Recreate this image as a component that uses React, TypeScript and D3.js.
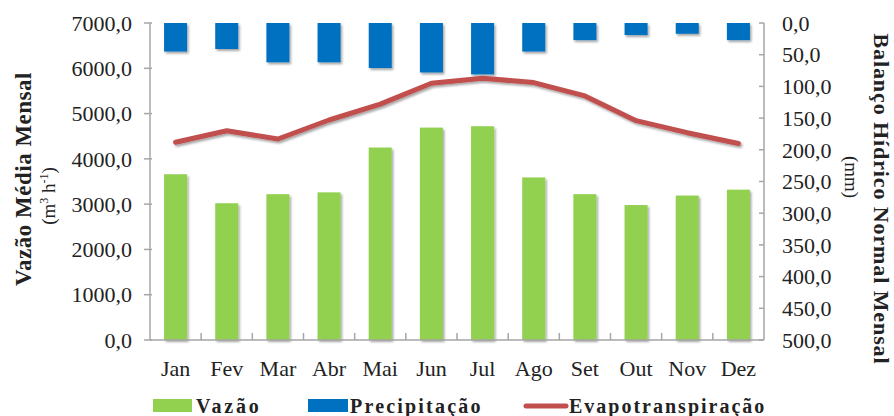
import * as d3 from "d3";

const months = ["Jan", "Fev", "Mar", "Abr", "Mai", "Jun", "Jul", "Ago", "Set", "Out", "Nov", "Dez"];
const vazao = [3660, 3020, 3220, 3260, 4250, 4690, 4720, 3590, 3220, 2980, 3190, 3320];
const precipitacao = [45, 41, 62, 62, 71, 78, 81, 45, 27, 19, 17, 27];
const evapo = [188, 170, 183, 153, 128, 95, 87, 94, 115, 154, 173, 190];
const leftTicks = [0, 1000, 2000, 3000, 4000, 5000, 6000, 7000];
const rightTicks = [0, 50, 100, 150, 200, 250, 300, 350, 400, 450, 500];

const W = 894;
const H = 416;
const left = 150;
const right = 764;
const top = 23;
const bottom = 340;

const fmt = d3
  .formatLocale({ decimal: ",", thousands: ".", grouping: [3], currency: ["", ""] })
  .format(".1f");

const FONT = "'Liberation Serif', 'Times New Roman', serif";
const AXIS = "#A6A6A6";
const GREEN = "#92D050";
const BLUE = "#0070C0";
const RED = "#C0504D";

export default function App() {
  const x = d3.scaleBand<string>().domain(months).range([left, right]).paddingInner(0.55).paddingOuter(0.275);
  const band = d3.scaleBand<string>().domain(months).range([left, right]);
  const yL = d3.scaleLinear().domain([0, 7000]).range([bottom, top]);
  const yR = d3.scaleLinear().domain([0, 500]).range([top, bottom]);

  const line = d3
    .line<number>()
    .x((_, i) => x(months[i])! + x.bandwidth() / 2)
    .y((d) => yR(d));

  return (
    <svg width={W} height={H} style={{ position: "absolute", left: 0, top: 0, background: "#fff" }} fontFamily={FONT}>
      <defs>
        <filter id="sh" x="-20%" y="-20%" width="150%" height="150%">
          <feDropShadow dx="1.5" dy="2" stdDeviation="1.2" floodColor="#000" floodOpacity="0.35" />
        </filter>
      </defs>

      {/* Vazão bars */}
      {vazao.map((v, i) => (
        <rect
          key={"v" + i}
          x={x(months[i])}
          y={yL(v)}
          width={x.bandwidth()}
          height={yL(0) - yL(v)}
          fill={GREEN}
          filter="url(#sh)"
        />
      ))}

      {/* Precipitação bars, hanging from top */}
      {precipitacao.map((v, i) => (
        <rect
          key={"p" + i}
          x={x(months[i])}
          y={yR(0)}
          width={x.bandwidth()}
          height={yR(v) - yR(0)}
          fill={BLUE}
          filter="url(#sh)"
        />
      ))}

      {/* Evapotranspiração line */}
      <path
        d={line(evapo)!}
        fill="none"
        stroke={RED}
        strokeWidth={5}
        strokeLinejoin="round"
        strokeLinecap="round"
        filter="url(#sh)"
      />

      {/* left axis */}
      <line x1={left} x2={left} y1={top} y2={bottom} stroke={AXIS} strokeWidth={1.5} />
      {leftTicks.map((t) => (
        <g key={"lt" + t}>
          <line x1={left - 6} x2={left + 2} y1={yL(t)} y2={yL(t)} stroke={AXIS} strokeWidth={1.5} />
          <text x={left - 18} y={yL(t)} dy="0.35em" textAnchor="end" fontSize={22} fill="#222">
            {fmt(t)}
          </text>
        </g>
      ))}

      {/* right axis */}
      <line x1={right} x2={right} y1={top} y2={bottom} stroke={AXIS} strokeWidth={1.5} />
      {rightTicks.map((t) => (
        <g key={"rt" + t}>
          <line x1={right - 5} x2={right} y1={yR(t)} y2={yR(t)} stroke={AXIS} strokeWidth={1.5} />
          <text x={right + 18} y={yR(t)} dy="0.35em" textAnchor="start" fontSize={22} fill="#222">
            {fmt(t)}
          </text>
        </g>
      ))}

      {/* x axis */}
      <line x1={left} x2={right} y1={bottom} y2={bottom} stroke={AXIS} strokeWidth={1.5} />
      {months.slice(1).map((m) => (
        <line key={"xt" + m} x1={band(m)} x2={band(m)} y1={bottom} y2={bottom - 7} stroke={AXIS} strokeWidth={1.5} />
      ))}
      {months.map((m) => (
        <text key={"xl" + m} x={x(m)! + x.bandwidth() / 2} y={376} textAnchor="middle" fontSize={22} fill="#222">
          {m}
        </text>
      ))}

      {/* axis titles */}
      <text
        transform="translate(31,179) rotate(-90)"
        textAnchor="middle"
        fontSize={23}
        fontWeight="bold"
        letterSpacing={0.5}
        fill="#222"
      >
        Vazão Média Mensal
      </text>
      <text transform="translate(55,196) rotate(-90)" textAnchor="middle" fontSize={19} fill="#222">
        (m<tspan dy="-7" fontSize={12}>3</tspan>
        <tspan dy="7"> h</tspan>
        <tspan dy="-7" fontSize={12}>-1</tspan>
        <tspan dy="7">)</tspan>
      </text>
      <text
        transform="translate(874,199) rotate(90)"
        textAnchor="middle"
        fontSize={22}
        fontWeight="bold"
        letterSpacing={0.9}
        fill="#222"
      >
        Balanço Hídrico Normal Mensal
      </text>
      <text transform="translate(845,177) rotate(90)" textAnchor="middle" fontSize={19} fill="#222">
        (mm)
      </text>

      {/* legend */}
      <rect x={153} y={399} width={39} height={13} fill={GREEN} />
      <text x={196} y={413} fontSize={20} fontWeight="bold" letterSpacing={2.8} fill="#222">
        Vazão
      </text>
      <rect x={308} y={399} width={40} height={13} fill={BLUE} />
      <text x={350} y={413} fontSize={20} fontWeight="bold" letterSpacing={2.2} fill="#222">
        Precipitação
      </text>
      <line x1={526} x2={566} y1={406} y2={406} stroke={RED} strokeWidth={5} strokeLinecap="round" />
      <text x={569} y={413} fontSize={20} fontWeight="bold" letterSpacing={2} fill="#222">
        Evapotranspiração
      </text>
    </svg>
  );
}
